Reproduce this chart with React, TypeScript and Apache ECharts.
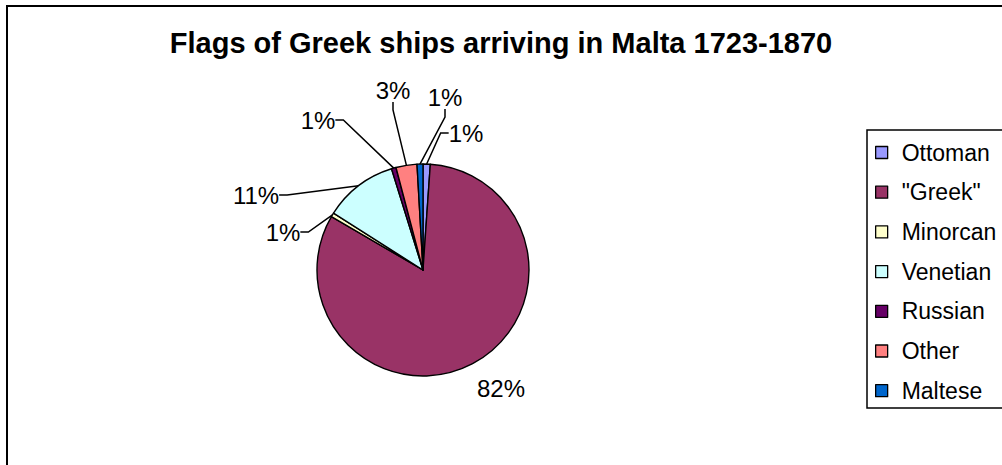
import React, { useEffect, useRef } from "react";
import * as echarts from "echarts";

const TITLE = "Flags of Greek ships arriving in Malta 1723-1870";
const categories = ["Ottoman", '"Greek"', "Minorcan", "Venetian", "Russian", "Other", "Maltese"];
const values = [1.1, 82.3, 0.6, 11.2, 0.7, 3.2, 0.9];
const colors = ["#9999FF", "#993366", "#FFFFCC", "#CCFFFF", "#660066", "#FF8080", "#0066CC"];
// where each percentage label sits (text centre), as in the reference
const labelPos: [number, number][] = [
  [466, 133],
  [501, 388],
  [283, 232],
  [256, 195],
  [318, 120],
  [393, 90],
  [445, 97],
];
const showLeader = [true, false, true, true, true, true, true];

const FONT = '"Liberation Sans", Arial, sans-serif';

export default function App() {
  const ref = useRef<HTMLDivElement>(null);
  useEffect(() => {
    if (!ref.current) return;
    const chart = echarts.init(ref.current, null, { renderer: "svg" });
    const total = values.reduce((a, b) => a + b, 0);
    chart.setOption({
      animation: false,
      backgroundColor: "#fff",
      graphic: [
        {
          type: "rect",
          shape: { x: 7, y: 6, width: 1200, height: 700 },
          style: { fill: "none", stroke: "#000", lineWidth: 2 },
          silent: true,
        },
        {
          type: "rect",
          shape: { x: 867, y: 130, width: 300, height: 278 },
          style: { fill: "none", stroke: "#000", lineWidth: 1.5 },
          silent: true,
        },
        {
          type: "text",
          x: 501,
          y: 43,
          style: {
            text: TITLE,
            font: `bold 29px ${FONT}`,
            fill: "#000",
            textAlign: "center",
            textVerticalAlign: "middle",
          },
        },
      ],
      legend: {
        orient: "vertical",
        left: 875,
        top: 141,
        padding: 0,
        itemWidth: 12,
        itemHeight: 12,
        itemGap: 16.7,
        icon: "rect",
        itemStyle: { borderColor: "#000", borderWidth: 1.3 },
        textStyle: {
          fontFamily: FONT,
          fontSize: 23,
          lineHeight: 23,
          color: "#000",
          padding: [0, 0, 0, 9],
        },
        data: categories,
      },
      series: [
        {
          type: "pie",
          center: [423, 270],
          radius: 106,
          startAngle: 90,
          clockwise: true,
          avoidLabelOverlap: false,
          itemStyle: { borderColor: "#000", borderWidth: 1.4 },
          label: {
            show: true,
            position: "outside",
            fontFamily: FONT,
            fontSize: 24,
            color: "#000",
            formatter: (p: any) => Math.round((p.value / total) * 100) + "%",
          },
          labelLine: { length: 10, length2: 8, lineStyle: { color: "#000", width: 1.5 } },
          labelLayout: (params: any) => ({
            x: labelPos[params.dataIndex][0],
            y: labelPos[params.dataIndex][1],
            align: "center",
            verticalAlign: "middle",
          }),
          emphasis: { disabled: true },
          data: categories.map((name, i) => ({
            name,
            value: values[i],
            itemStyle: { color: colors[i] },
            labelLine: { show: showLeader[i] },
          })),
        },
      ],
    });
    return () => chart.dispose();
  }, []);
  return <div ref={ref} style={{ position: "fixed", left: 0, top: 0, width: 1002, height: 465 }} />;
}
